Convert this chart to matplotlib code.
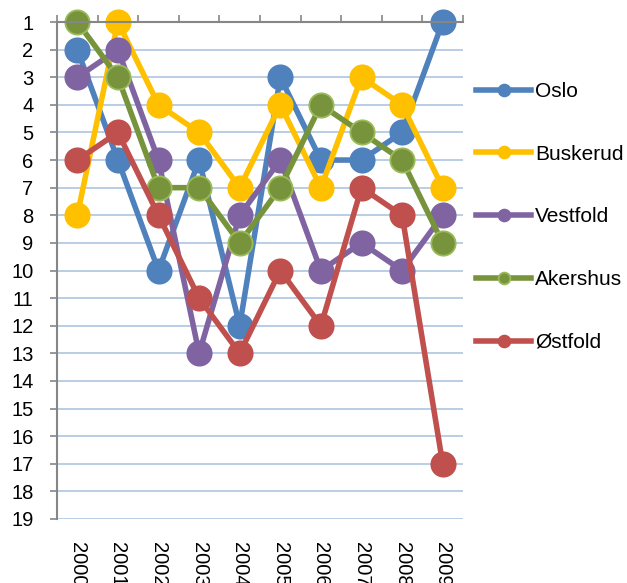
import matplotlib
matplotlib.use('Agg')
import matplotlib.pyplot as plt
from matplotlib.lines import Line2D
import numpy as np

plt.rcParams['font.family'] = ['Liberation Sans', 'DejaVu Sans']

years = ['2000', '2001', '2002', '2003', '2004', '2005', '2006', '2007', '2008', '2009']
oslo = [2, 6, 10, 6, 12, 3, 6, 6, 5, 1]
buskerud = [8, 1, 4, 5, 7, 4, 7, 3, 4, 7]
vestfold = [3, 2, 6, 13, 8, 6, 10, 9, 10, 8]
akershus = [1, 3, 7, 7, 9, 7, 4, 5, 6, 9]
ostfold = [6, 5, 8, 11, 13, 10, 12, 7, 8, 17]

names = ['Oslo', 'Buskerud', 'Vestfold', 'Akershus', 'Østfold']
series = [oslo, buskerud, vestfold, akershus, ostfold]
colors = ['#4f81bd', '#ffc000', '#8064a2', '#77933c', '#c0504d']
edges = ['#4f81bd', '#ffc000', '#8064a2', '#9bbb59', '#c0504d']

fig = plt.figure(figsize=(6.27, 5.83), dpi=100)
ax = fig.add_axes([57/627, 1 - 519/583, (463 - 57)/627, (519 - 22)/583])

x = np.arange(1, len(years) + 1)
for vals, c, e in zip(series, colors, edges):
    ax.plot(x, vals, color=c, lw=4, marker='o', markersize=17.5,
            markerfacecolor=c, markeredgecolor=e, markeredgewidth=1.3, clip_on=False)

ax.set_xlim(0.5, len(years) + 0.5)
ax.set_ylim(19, 1)
ax.set_yticks(range(1, 20))
ax.set_xticks(x)
ax.set_xticklabels(years, rotation=270, fontsize=14.5)
ax.set_xticks(np.arange(0.5, len(years) + 1), minor=True)
ax.tick_params(axis='x', which='major', bottom=False, top=False, labelbottom=True, pad=13)
ax.tick_params(axis='x', which='minor', bottom=False, top=True, direction='out',
               length=5, width=1.2, color='#868686')
ax.tick_params(axis='y', which='major', left=True, direction='out', length=5, width=1.2,
               color='#868686', labelsize=14.5, pad=12)
ax.grid(axis='y', color='#b9cde5', lw=1.4)
ax.set_axisbelow(True)
for s in ['right', 'bottom']:
    ax.spines[s].set_visible(False)
for s in ['left', 'top']:
    ax.spines[s].set_color('#868686')
    ax.spines[s].set_linewidth(1.5)

handles = [Line2D([], [], color=c, lw=4, marker='o', markersize=8.5,
                  markerfacecolor=c, markeredgecolor=e, markeredgewidth=1.3)
           for c, e in zip(colors, edges)]
fig.legend(handles, names, loc='upper left', bbox_to_anchor=(476/627, 1 - 82/583),
           frameon=False, fontsize=15, handlelength=2.64, handletextpad=0.2,
           labelspacing=2.1, borderpad=0, borderaxespad=0)

fig.savefig('out.png', dpi=100)
